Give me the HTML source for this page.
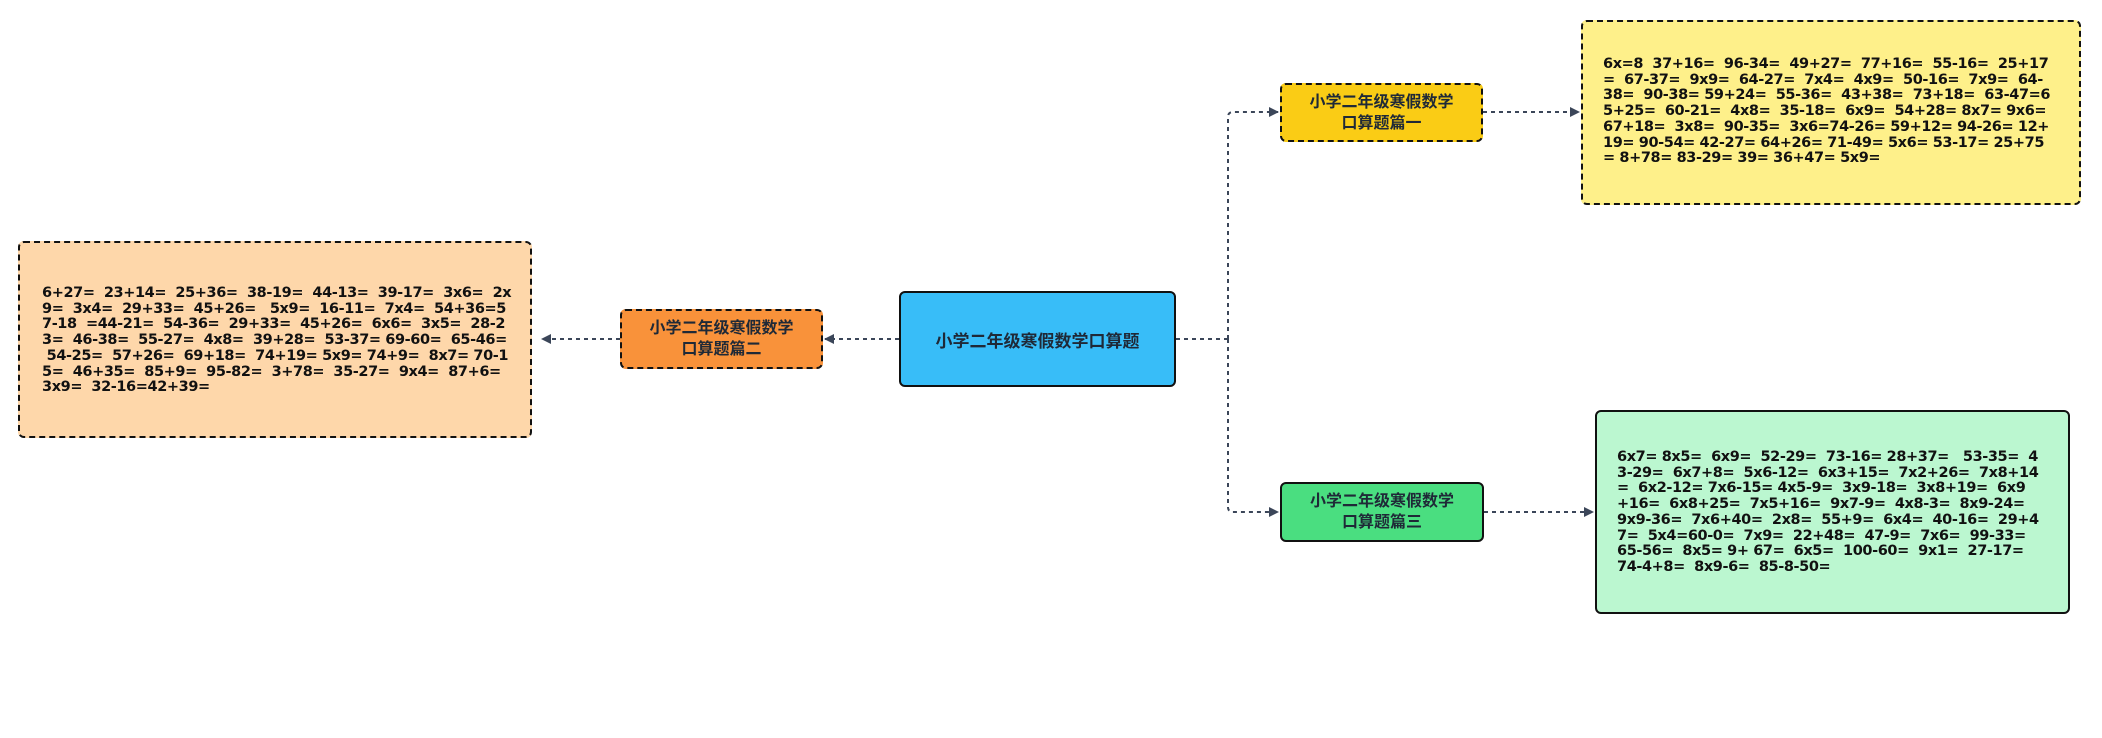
<!DOCTYPE html>
<html><head><meta charset="utf-8"><style>
html,body{margin:0;padding:0;background:#fff;width:2102px;height:738px;overflow:hidden;position:relative}
.n{position:absolute;box-sizing:border-box;border-radius:6px;display:flex;align-items:center;justify-content:center;text-align:center;font-family:"Liberation Sans","Noto Sans CJK SC",sans-serif;font-weight:bold;color:#1f2937}
.b{position:absolute;box-sizing:border-box;border-radius:6px;font-family:"DejaVu Sans","Noto Sans CJK SC",sans-serif;font-size:14.5px;line-height:15.7px;color:#111;white-space:pre;font-weight:bold;letter-spacing:-0.4px}
.dash{border:2px dashed #111}
.solid{border:2px solid #111}
</style></head><body>
<svg width="2102" height="738" style="position:absolute;left:0;top:0">
<defs><marker id="a" markerWidth="10" markerHeight="10" refX="9" refY="5" orient="auto" markerUnits="userSpaceOnUse"><path d="M0,0 L10,5 L0,10 z" fill="#3b4659"/></marker></defs>
<g stroke="#3b4659" stroke-width="2" stroke-dasharray="4,4" fill="none">
<path d="M899 339 H825" marker-end="url(#a)"/>
<path d="M620 339 H542" marker-end="url(#a)"/>
<path d="M1176 339 H1228"/>
<path d="M1228 339 V117 Q1228 112 1233 112 H1278" marker-end="url(#a)"/>
<path d="M1228 339 V507 Q1228 512 1233 512 H1278" marker-end="url(#a)"/>
<path d="M1483 112 H1579" marker-end="url(#a)"/>
<path d="M1484 512 H1593" marker-end="url(#a)"/>
</g></svg>
<div class="n solid" style="left:899px;top:291px;width:277px;height:96px;background:#38bdf8;font-size:17px">小学二年级寒假数学口算题</div>
<div class="n dash" style="left:620px;top:309px;width:203px;height:60px;background:#f9923a;font-size:16px;line-height:21px">小学二年级寒假数学<br>口算题篇二</div>
<div class="n dash" style="left:1280px;top:83px;width:203px;height:59px;background:#facc15;font-size:16px;line-height:21px">小学二年级寒假数学<br>口算题篇一</div>
<div class="n solid" style="left:1280px;top:482px;width:204px;height:60px;background:#4ade80;font-size:16px;line-height:21px">小学二年级寒假数学<br>口算题篇三</div>
<div class="b dash" style="left:1581px;top:20px;width:500px;height:185px;background:#fef08a;padding:35px 0 0 20px">6x=8  37+16=  96-34=  49+27=  77+16=  55-16=  25+17
=  67-37=  9x9=  64-27=  7x4=  4x9=  50-16=  7x9=  64-
38=  90-38= 59+24=  55-36=  43+38=  73+18=  63-47=6
5+25=  60-21=  4x8=  35-18=  6x9=  54+28= 8x7= 9x6=
67+18=  3x8=  90-35=  3x6=74-26= 59+12= 94-26= 12+
19= 90-54= 42-27= 64+26= 71-49= 5x6= 53-17= 25+75
= 8+78= 83-29= 39= 36+47= 5x9=</div>
<div class="b dash" style="left:18px;top:241px;width:514px;height:197px;background:#fed7aa;padding:43px 0 0 22px">6+27=  23+14=  25+36=  38-19=  44-13=  39-17=  3x6=  2x
9=  3x4=  29+33=  45+26=   5x9=  16-11=  7x4=  54+36=5
7-18  =44-21=  54-36=  29+33=  45+26=  6x6=  3x5=  28-2
3=  46-38=  55-27=  4x8=  39+28=  53-37= 69-60=  65-46=
 54-25=  57+26=  69+18=  74+19= 5x9= 74+9=  8x7= 70-1
5=  46+35=  85+9=  95-82=  3+78=  35-27=  9x4=  87+6=
3x9=  32-16=42+39=</div>
<div class="b solid" style="left:1595px;top:410px;width:475px;height:204px;background:#bbf7d0;padding:38px 0 0 20px">6x7= 8x5=  6x9=  52-29=  73-16= 28+37=   53-35=  4
3-29=  6x7+8=  5x6-12=  6x3+15=  7x2+26=  7x8+14
=  6x2-12= 7x6-15= 4x5-9=  3x9-18=  3x8+19=  6x9
+16=  6x8+25=  7x5+16=  9x7-9=  4x8-3=  8x9-24=
9x9-36=  7x6+40=  2x8=  55+9=  6x4=  40-16=  29+4
7=  5x4=60-0=  7x9=  22+48=  47-9=  7x6=  99-33=
65-56=  8x5= 9+ 67=  6x5=  100-60=  9x1=  27-17=
74-4+8=  8x9-6=  85-8-50=</div>
</body></html>
